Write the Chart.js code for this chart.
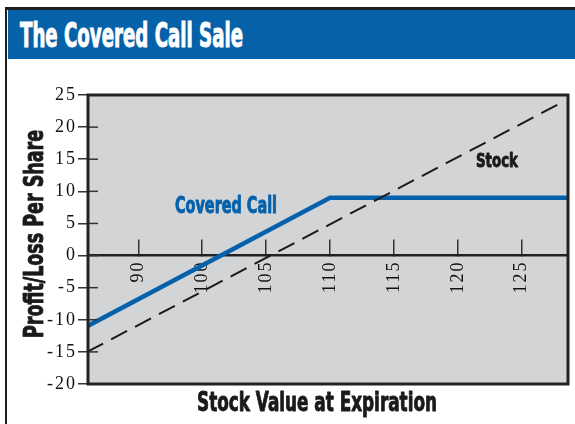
<!DOCTYPE html>
<html><head><meta charset="utf-8">
<script src="https://cdn.jsdelivr.net/npm/chart.js@4"></script>
<style>
html,body{margin:0;padding:0;background:#fff;}
#wrap{position:relative;width:575px;height:424px;overflow:hidden;}
#c{position:absolute;left:0;top:0;}
#frame{position:absolute;left:5px;top:7px;width:580px;height:430px;border-left:2.5px solid #1e1e1e;border-top:3px solid #1e1e1e;box-sizing:border-box;}
#bar{position:absolute;left:7.5px;top:10px;right:0;height:49px;background:#0561A8;}
#title{position:absolute;left:20px;top:19px;font-weight:bold;font-size:33px;font-family:"Liberation Sans Narrow","DejaVu Sans Condensed","Liberation Sans",sans-serif;line-height:33px;color:#fff;-webkit-text-stroke:1px #fff;white-space:nowrap;transform-origin:0 0;}
</style></head>
<body><div id="wrap"><canvas id="c" width="575" height="424"></canvas><div id="frame"></div><div id="bar"></div><div id="title">The Covered Call Sale</div></div>
<script>
const xAxisTitle = 'Stock Value at Expiration';
const yAxisTitle = 'Profit/Loss Per Share';
const xTickValues = [95, 100, 105, 110, 115, 120, 125];
const xTickLabels = ['90', '100', '105', '110', '115', '120', '125'];
const stockX = [91, 128];
const stockY = [-15, 23.7];
const coveredX = [91, 110, 128.6];
const coveredY = [-11, 9, 9];
const seriesLabels = ['Stock', 'Covered Call'];

const COND = '"Liberation Sans Narrow","DejaVu Sans Condensed","Liberation Sans",sans-serif';
const SERIF = '"Liberation Serif","DejaVu Serif",serif';

// fit title width
const tEl = document.getElementById('title');
const tw = tEl.getBoundingClientRect().width;
tEl.style.transform = 'scaleX(' + (223 / tw) + ')';

function drawFit(ctx, text, x, y, capH, width, color, rotate) {
  const size = capH / 0.72;
  ctx.save();
  ctx.letterSpacing = '0px';
  ctx.font = 'bold ' + size + 'px ' + COND;
  const w = ctx.measureText(text).width;
  ctx.translate(x, y);
  if (rotate) ctx.rotate(-Math.PI / 2);
  ctx.scale(width / w, 1);
  ctx.fillStyle = color;
  ctx.strokeStyle = color;
  ctx.lineWidth = 0.9;
  ctx.lineJoin = 'round';
  ctx.textAlign = 'left';
  ctx.textBaseline = 'alphabetic';
  ctx.fillText(text, 0, 0);
  ctx.strokeText(text, 0, 0);
  ctx.restore();
}

const framePlugin = {
  id: 'framePlugin',
  beforeDraw(chart) {
    const { ctx, chartArea: a } = chart;
    ctx.save();
    ctx.fillStyle = '#D3D4D6';
    ctx.fillRect(a.left, a.top, a.right - a.left, a.bottom - a.top);
    ctx.restore();
    ctx.letterSpacing = '2px';
  },
  afterDatasetsDraw(chart) {
    const { ctx, chartArea: a, scales: { y } } = chart;
    ctx.save();
    ctx.strokeStyle = '#333';
    ctx.lineWidth = 1.5;
    y.ticks.forEach(t => {
      const py = y.getPixelForValue(t.value);
      ctx.beginPath(); ctx.moveTo(a.left, py); ctx.lineTo(a.left + 10, py); ctx.stroke();
    });
    ctx.strokeStyle = '#222';
    ctx.lineWidth = 3;
    ctx.strokeRect(a.left, a.top, a.right - a.left, a.bottom - a.top);
    ctx.restore();
  },
  afterDraw(chart) {
    const ctx = chart.ctx;
    drawFit(ctx, seriesLabels[1], 175, 212.5, 16.5, 102, '#0561AB', false);
    drawFit(ctx, seriesLabels[0], 476, 167, 14.5, 42, '#1a1a1a', false);
    drawFit(ctx, xAxisTitle, 197, 410.5, 19, 240, '#1a1a1a', false);
    drawFit(ctx, yAxisTitle, 43, 338, 19.5, 208, '#1a1a1a', true);
  }
};

new Chart(document.getElementById('c'), {
  type: 'line',
  data: {
    datasets: [
      {
        label: seriesLabels[0],
        data: stockX.map((x, i) => ({ x, y: stockY[i] })),
        borderColor: '#1a1a1a', borderWidth: 2, borderDash: [18, 9],
        pointRadius: 0, fill: false, tension: 0
      },
      {
        label: seriesLabels[1],
        data: coveredX.map((x, i) => ({ x, y: coveredY[i] })),
        borderColor: '#0561AB', borderWidth: 4.5,
        pointRadius: 0, fill: false, tension: 0
      }
    ]
  },
  options: {
    responsive: false, animation: false, devicePixelRatio: 1,
    layout: { padding: { left: 0, right: 7, top: 95, bottom: 40 } },
    plugins: { legend: { display: false }, tooltip: { enabled: false }, title: { display: false } },
    scales: {
      x: {
        type: 'linear', position: { y: 0 }, min: 91.06, max: 128.62,
        afterBuildTicks: s => { s.ticks = xTickValues.map(v => ({ value: v })); },
        grid: { drawOnChartArea: false, drawTicks: true, tickLength: -17, color: '#333', lineWidth: 1.5 },
        border: { display: true, color: '#222', width: 2.5 },
        ticks: {
          font: { family: SERIF, size: 18 }, color: '#111',
          minRotation: 90, maxRotation: 90, padding: 22, autoSkip: false,
          callback: (v, i) => xTickLabels[i]
        }
      },
      y: {
        min: -20, max: 25,
        afterFit: s => { s.width = 88; },
        ticks: { stepSize: 5, font: { family: SERIF, size: 18 }, color: '#111', padding: 1 },
        grid: { drawOnChartArea: false, tickLength: 10, color: '#333', lineWidth: 1.5 },
        border: { display: false }
      }
    }
  },
  plugins: [framePlugin]
});
</script>
</body></html>
